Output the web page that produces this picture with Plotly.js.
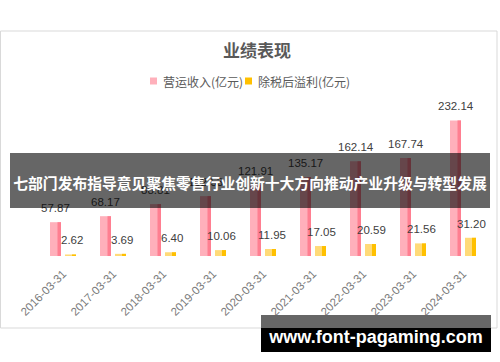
<!DOCTYPE html>
<html><head><meta charset="utf-8">
<script src="https://cdn.plot.ly/plotly-3.0.1.min.js"></script>
<style>
html,body{margin:0;padding:0;background:#fff;}
#wrap{position:relative;width:500px;height:362px;overflow:hidden;}
#chart{position:absolute;left:0;top:0;width:500px;height:362px;}
#banner{position:absolute;left:10px;top:153px;width:480px;height:55px;background:rgba(0,0,0,0.6);color:#fff;font-family:"Noto Sans CJK SC";font-weight:bold;font-size:14.8px;line-height:59px;text-align:center;white-space:nowrap;overflow:hidden;}
#wm{position:absolute;left:261px;top:315px;width:230px;height:37px;background:linear-gradient(#666 0,#666 13px,#000 13px);color:#fff;font-family:"Liberation Sans";font-weight:bold;font-size:18px;text-align:center;line-height:44px;white-space:nowrap;overflow:hidden;}
</style></head>
<body>
<div id="wrap">
<div id="chart"></div>
<div id="banner">七部门发布指导意见聚焦零售行业创新十大方向推动产业升级与转型发展</div>
<div id="wm">www.font-pagaming.com</div>
</div>
<script>
const categories = ['2016-03-31','2017-03-31','2018-03-31','2019-03-31','2020-03-31','2021-03-31','2022-03-31','2023-03-31','2024-03-31'];
const revenue = [57.87, 68.17, 88.81, 102.53, 121.91, 135.17, 162.14, 167.74, 232.14];
const profit = [2.62, 3.69, 6.40, 10.06, 11.95, 17.05, 20.59, 21.56, 31.20];
const seriesNames = ['营运收入(亿元)', '除税后溢利(亿元)'];
const chartTitle = '业绩表现';

const W = 500, H = 362, ML = 38, MR = 12, MT = 110, MB = 106;
const PW = W - ML - MR, PH = H - MT - MB;
const px = v => (v - ML) / PW;
const py = v => (H - MB - v) / PH;

const pinkMain = '#FFB0BB', pinkEdge = '#FF7F91';
const yelMain = '#FFDA78', yelEdge = '#FFC000';

const traces = [
  {type:'bar', x:categories, y:revenue, name:seriesNames[0], offset:-0.26, width:0.22, marker:{color:pinkMain}, hoverinfo:'skip'},
  {type:'bar', x:categories, y:revenue, name:seriesNames[0]+' edge', offset:-0.11, width:0.07, marker:{color:pinkEdge}, hoverinfo:'skip', showlegend:false},
  {type:'bar', x:categories, y:profit, name:seriesNames[1], offset:0.04, width:0.22, marker:{color:yelMain}, hoverinfo:'skip'},
  {type:'bar', x:categories, y:profit, name:seriesNames[1]+' edge', offset:0.18, width:0.08, marker:{color:yelEdge}, hoverinfo:'skip', showlegend:false}
];

const labelFont = {family:'Liberation Sans', size:11.5, color:'#404040'};
const annotations = [];
categories.forEach((c, i) => {
  annotations.push({x:c, y:revenue[i], xref:'x', yref:'y', text:revenue[i].toFixed(2), showarrow:false, xshift:-7.5, yshift:14, yanchor:'middle', font:labelFont});
  annotations.push({x:c, y:profit[i], xref:'x', yref:'y', text:profit[i].toFixed(2), showarrow:false, xshift:8.5, yshift:14, yanchor:'middle', font:labelFont});
});
const legFont = {family:'Noto Sans CJK SC', size:12, color:'#595959'};
annotations.push({xref:'paper', yref:'paper', x:px(161), y:py(81), xanchor:'left', yanchor:'middle', text:seriesNames[0], showarrow:false, font:legFont});
annotations.push({xref:'paper', yref:'paper', x:px(256), y:py(81), xanchor:'left', yanchor:'middle', text:seriesNames[1], showarrow:false, font:legFont});

const shapes = [
  {type:'rect', xref:'paper', yref:'paper', x0:px(0.5), x1:px(497), y0:py(31), y1:py(328), line:{color:'#D9D9D9', width:1}, fillcolor:'rgba(0,0,0,0)', layer:'below'},
  {type:'rect', xref:'paper', yref:'paper', x0:px(150), x1:px(157), y0:py(77.5), y1:py(84.5), line:{width:0}, fillcolor:pinkMain},
  {type:'rect', xref:'paper', yref:'paper', x0:px(245), x1:px(252), y0:py(77.5), y1:py(84.5), line:{width:0}, fillcolor:yelEdge}
];

const layout = {
  width:W, height:H,
  margin:{l:ML, r:MR, t:MT, b:MB, pad:0},
  paper_bgcolor:'rgba(0,0,0,0)', plot_bgcolor:'rgba(0,0,0,0)',
  title:{text:chartTitle, x:257/W, xref:'container', xanchor:'center', y:1-51/H, yref:'container', yanchor:'middle', font:{family:'Noto Sans CJK SC', size:17, weight:'bold', color:'#595959'}},
  barmode:'overlay',
  showlegend:false,
  xaxis:{type:'category', range:[-0.5, 8.5], tickangle:-45, ticks:'', showline:false, showgrid:false, zeroline:false, ticklabelstandoff:8, tickfont:{family:'Liberation Sans', size:11.5, color:'#7A7A7A'}},
  yaxis:{visible:false, range:[0, 250], showgrid:false, zeroline:false},
  annotations:annotations,
  shapes:shapes
};
Plotly.newPlot('chart', traces, layout, {displayModeBar:false, staticPlot:true});
</script>
</body></html>
